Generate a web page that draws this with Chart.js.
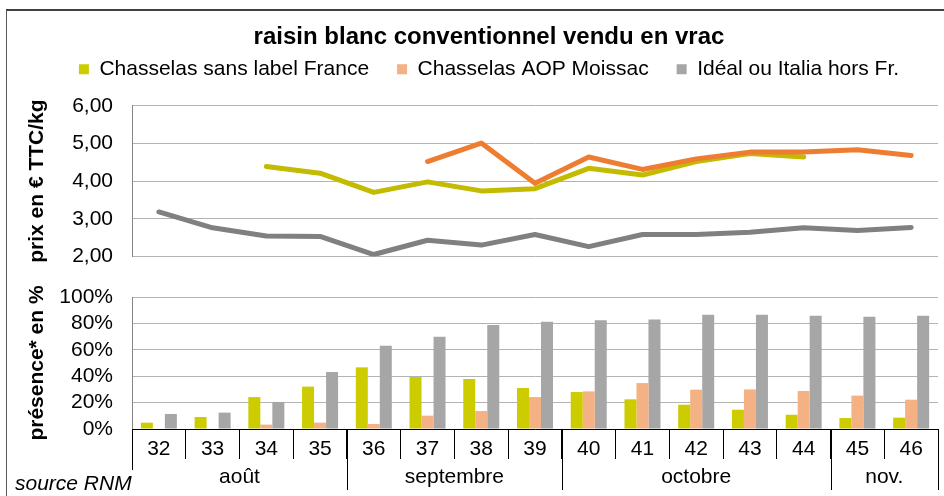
<!DOCTYPE html>
<html>
<head>
<meta charset="utf-8">
<script src="https://cdn.jsdelivr.net/npm/chart.js@4.4.1/dist/chart.umd.min.js"></script>
<style>
  html, body { margin: 0; padding: 0; background: #fff; overflow: hidden; }
  #wrap { position: relative; width: 944px; height: 496px; }
  #cadre { position: absolute; left: 6px; top: 9px; width: 980px; height: 520px;
           border-top: 2px solid #404040; border-left: 1px solid #595959; }
  canvas { position: absolute; left: 0; }
  #prix { top: 0; }
  #presence { top: 260px; }
</style>
</head>
<body>
<div id="wrap">
  <div id="cadre"></div>
  <canvas id="prix" width="944" height="288"></canvas>
  <canvas id="presence" width="944" height="236"></canvas>
</div>
<script>
// semaines et mois
const weeks = ['32', '33', '34', '35', '36', '37', '38', '39', '40', '41', '42', '43', '44', '45', '46'];
const months = ['août', 'septembre', 'octobre', 'nov.'];
const monthWeeks = [4, 4, 5, 2];

const seriesNames = ['Chasselas sans label France', 'Chasselas AOP Moissac', 'Idéal ou Italia hors Fr.'];

// prix en € TTC/kg
const prixSansLabel = [null, null, 4.39, 4.21, 3.70, 3.98, 3.74, 3.80, 4.34, 4.16, 4.52, 4.73, 4.64, null, null];
const prixAOP = [null, null, null, null, null, 4.52, 5.01, 3.94, 4.64, 4.31, 4.59, 4.77, 4.77, 4.83, 4.68];
const prixImport = [3.18, 2.76, 2.54, 2.53, 2.05, 2.43, 2.30, 2.58, 2.26, 2.58, 2.58, 2.64, 2.76, 2.69, 2.77];

// présence en %
const presSansLabel = [4.8, 9.1, 24.2, 32.1, 46.7, 39.4, 37.9, 31.1, 28.0, 22.5, 18.4, 14.6, 10.8, 8.3, 8.6];
const presAOP = [0, 0, 3.3, 4.8, 3.8, 10.1, 13.6, 24.2, 28.5, 34.8, 29.8, 30.0, 28.8, 25.3, 22.2];
const presImport = [11.4, 12.4, 20.5, 43.2, 63.1, 69.9, 78.8, 81.3, 82.3, 83.0, 86.6, 86.6, 85.8, 85.1, 85.8];

const lineColors = ['#c3bb00', '#ed7d31', '#808080'];
const barColors = ['#cccc00', '#f4b183', '#a6a6a6'];

const FONT = '"Liberation Sans", Arial, sans-serif';
Chart.defaults.font.family = FONT;
Chart.defaults.color = '#000';

const tickFont = { size: 21 };
const axisTitleFont = { size: 21, weight: 'bold' };

// axe y commun aux deux graphes (largeur fixe pour aligner les zones)
function yAxis(title) {
  return {
    ticks: { padding: 19, font: tickFont, color: '#000', autoSkip: false },
    grid: { color: '#b3b3b3', drawTicks: false },
    border: { color: '#868686' },
    title: { display: true, text: title, font: axisTitleFont, color: '#000', padding: { top: -15, bottom: 0 } },
    afterFit: (s) => { s.width = 92; }
  };
}

// un peu d'espace sous la légende
const legendSpace = {
  id: 'legendSpace',
  beforeInit(chart) {
    const fit = chart.legend.fit;
    chart.legend.fit = function () {
      fit.call(this);
      this.height += 16;
    };
  }
};

const yPrix = yAxis('prix en € TTC/kg');
yPrix.min = 2;
yPrix.max = 6;
yPrix.ticks.stepSize = 1;
yPrix.ticks.callback = (v) => v.toFixed(2).replace('.', ',');

const lineSet = (i, data, order) => ({
  label: seriesNames[i],
  data: data,
  borderColor: lineColors[i],
  backgroundColor: lineColors[i],
  borderWidth: 5,
  pointRadius: 0,
  tension: 0,
  borderCapStyle: 'round',
  borderJoinStyle: 'round',
  order: order
});

new Chart(document.getElementById('prix'), {
  type: 'line',
  data: {
    labels: weeks,
    datasets: [
      lineSet(0, prixSansLabel, 2),
      lineSet(1, prixAOP, 1),
      lineSet(2, prixImport, 3)
    ]
  },
  options: {
    responsive: false,
    animation: false,
    devicePixelRatio: 1,
    layout: { padding: { left: 40, right: 6, top: 10, bottom: 0 } },
    scales: {
      // axe x invisible, seulement pour réserver la place du bas
      x: {
        offset: true,
        ticks: { display: false },
        grid: { display: false },
        border: { display: false },
        afterFit: (s) => { s.height = 20; }
      },
      y: yPrix
    },
    plugins: {
      title: {
        display: true,
        text: 'raisin blanc conventionnel vendu en vrac',
        font: { size: 24, weight: 'bold' },
        color: '#000',
        padding: { top: 13, bottom: -21 }
      },
      legend: {
        display: true,
        labels: {
          boxWidth: 10,
          boxHeight: 10,
          padding: 28,
          font: { size: 21 },
          color: '#000',
          generateLabels: () => seriesNames.map((name, i) => ({
            text: name,
            fillStyle: barColors[i],
            strokeStyle: barColors[i],
            lineWidth: 0,
            hidden: false,
            datasetIndex: i
          }))
        }
      },
      tooltip: { enabled: false }
    }
  },
  plugins: [legendSpace]
});

// ligne des mois sous les semaines + source
const monthRow = {
  id: 'monthRow',
  afterDraw(chart) {
    const ctx = chart.ctx;
    const xs = chart.scales.x;
    const y0 = xs.top;
    ctx.save();
    ctx.strokeStyle = '#000';
    ctx.lineWidth = 1;
    ctx.fillStyle = '#000';
    ctx.font = '21px ' + FONT;
    ctx.textAlign = 'center';
    ctx.textBaseline = 'middle';
    let start = 0;
    const edges = [xs.getPixelForValue(-0.5)];
    months.forEach((m, i) => {
      const end = start + monthWeeks[i];
      const left = xs.getPixelForValue(start - 0.5);
      const right = xs.getPixelForValue(end - 0.5);
      ctx.fillText(m, (left + right) / 2, y0 + 48);
      edges.push(right);
      start = end;
    });
    edges.forEach((px, i) => {
      const x = Math.round(px) + 0.5;
      ctx.beginPath();
      ctx.moveTo(x, y0);
      ctx.lineTo(x, y0 + (i === 0 ? 41 : 61));
      ctx.stroke();
    });
    ctx.font = 'italic 21px ' + FONT;
    ctx.textAlign = 'left';
    ctx.fillText('source RNM', 15, y0 + 55);
    ctx.restore();
  }
};

const yPres = yAxis('présence* en %');
yPres.min = 0;
yPres.max = 100;
yPres.ticks.stepSize = 20;
yPres.ticks.callback = (v) => v + '%';

new Chart(document.getElementById('presence'), {
  type: 'bar',
  data: {
    labels: weeks,
    datasets: [
      { label: seriesNames[0], data: presSansLabel, backgroundColor: barColors[0] },
      { label: seriesNames[1], data: presAOP, backgroundColor: barColors[1] },
      { label: seriesNames[2], data: presImport, backgroundColor: barColors[2] }
    ]
  },
  options: {
    responsive: false,
    animation: false,
    devicePixelRatio: 1,
    layout: { padding: { left: 40, right: 6, top: 37, bottom: 0 } },
    datasets: { bar: { categoryPercentage: 0.67, barPercentage: 1 } },
    scales: {
      x: {
        offset: true,
        grid: { offset: true, drawOnChartArea: false, drawTicks: true, tickLength: 30, tickColor: '#000' },
        border: { color: '#000' },
        ticks: { color: '#000', font: tickFont, padding: -22, maxRotation: 0, autoSkip: false },
        afterFit: (s) => { s.height = 67; }
      },
      y: yPres
    },
    plugins: {
      legend: { display: false },
      title: { display: false },
      tooltip: { enabled: false }
    }
  },
  plugins: [monthRow]
});
</script>
</body>
</html>
